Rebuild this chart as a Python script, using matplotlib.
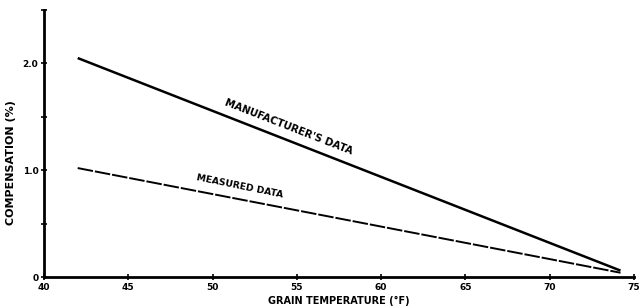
import matplotlib
matplotlib.use("Agg")
import matplotlib.pyplot as plt

# Data
manuf_temp = [42.0, 74.2]
manuf_comp = [2.05, 0.06]
meas_temp = [42.0, 74.2]
meas_comp = [1.02, 0.04]
x_ticks = [40, 45, 50, 55, 60, 65, 70, 75]
x_ticklabels = ["40", "45", "50", "55", "60", "65", "70", "75"]
y_ticks = [0, 0.5, 1.0, 1.5, 2.0, 2.5]
y_ticklabels = ["0", "", "1.0", "", "2.0", ""]

fig = plt.figure(figsize=(6.43, 3.08), dpi=100)
ax = fig.add_axes([0.0684, 0.1006, 0.9176, 0.867])

ax.plot(manuf_temp, manuf_comp, color="black", lw=1.8, solid_capstyle="butt")
ax.plot(meas_temp, meas_comp, color="black", lw=1.4, dashes=(8, 1.0))

ax.set_xlim(40, 75)
ax.set_ylim(0, 2.5)
ax.set_xticks(x_ticks)
ax.set_xticklabels(x_ticklabels)
ax.set_yticks(y_ticks)
ax.set_yticklabels(y_ticklabels)

for s in ["top", "right"]:
    ax.spines[s].set_visible(False)
for s in ["left", "bottom"]:
    ax.spines[s].set_linewidth(2.0)

ax.tick_params(axis="both", direction="inout", length=5, width=1.2,
               labelsize=6.5, pad=1.5)
for lab in ax.get_xticklabels() + ax.get_yticklabels():
    lab.set_fontweight("bold")

ax.set_xlabel("GRAIN TEMPERATURE (°F)", fontsize=7, fontweight="bold", labelpad=3)
ax.set_ylabel("COMPENSATION (%)", fontsize=8, fontweight="bold")
ax.yaxis.set_label_coords(-0.047, 0.43)

ax.text(54.5, 1.40, "MANUFACTURER'S DATA", rotation=-21.3, fontsize=7.3,
        fontweight="bold", ha="center", va="center", rotation_mode="anchor")
ax.text(51.6, 0.85, "MEASURED DATA", rotation=-11.5, fontsize=6.7,
        fontweight="bold", ha="center", va="center", rotation_mode="anchor")

fig.savefig("out.png", dpi=100, facecolor="white")
